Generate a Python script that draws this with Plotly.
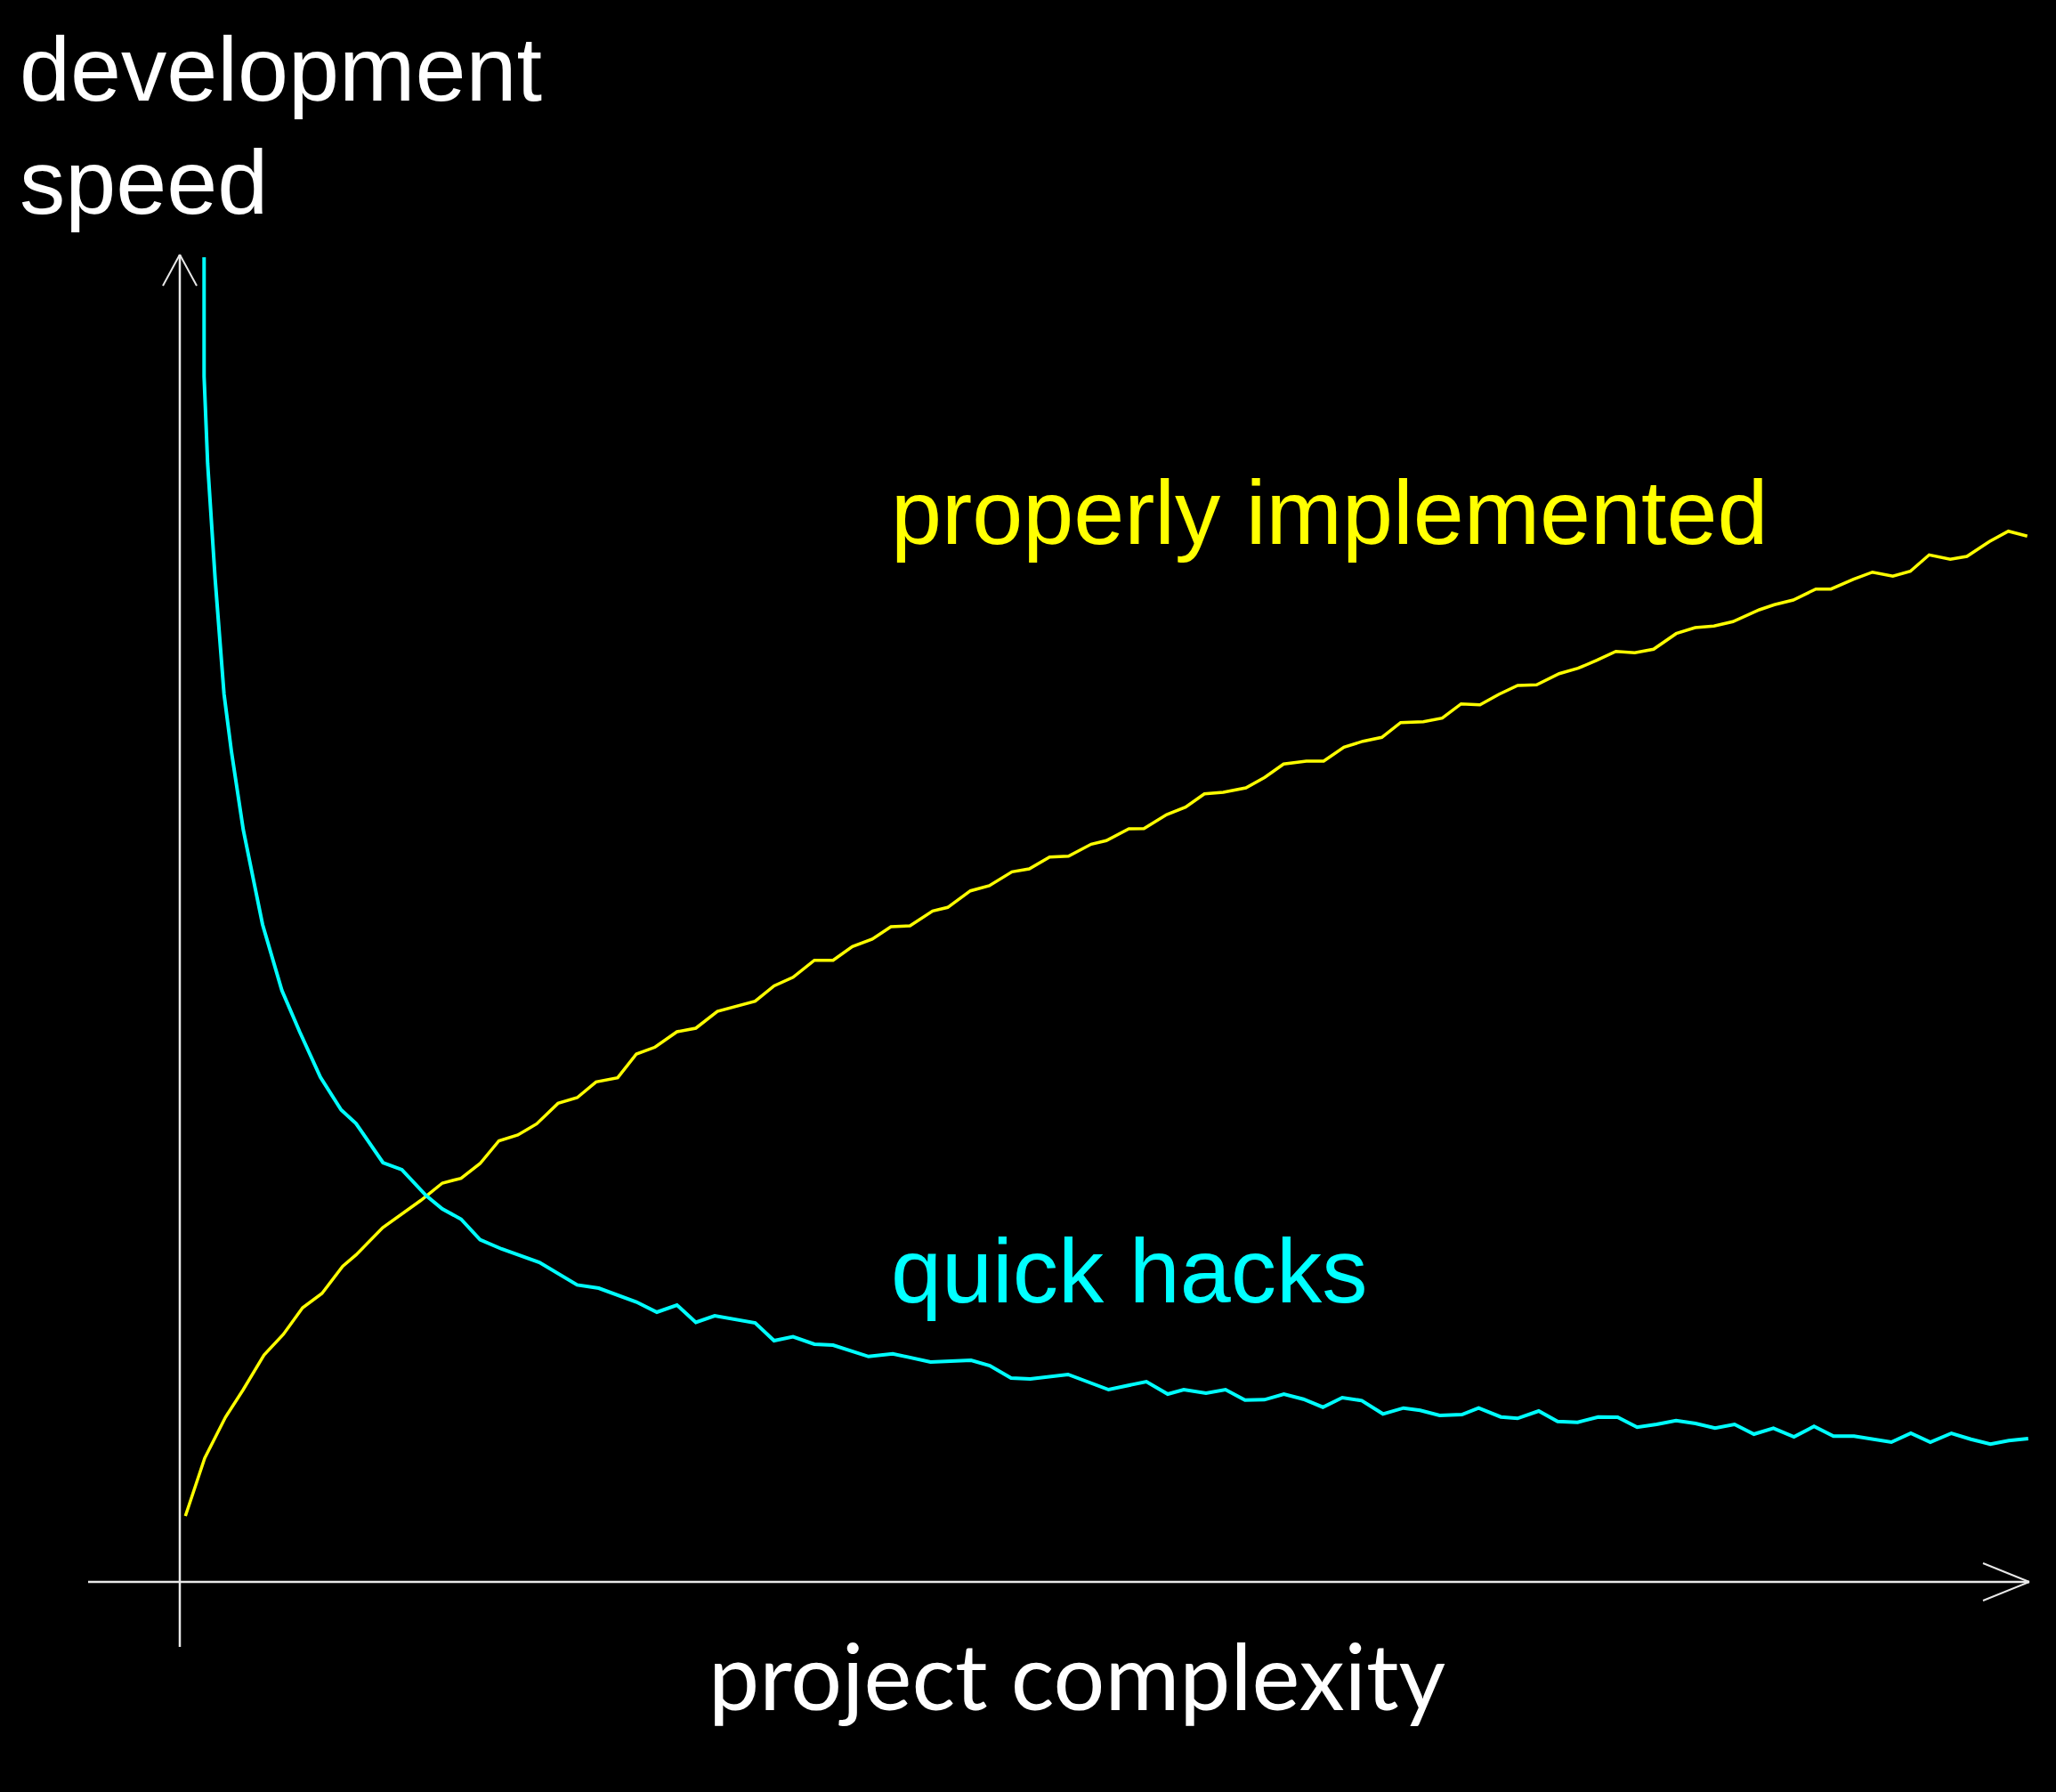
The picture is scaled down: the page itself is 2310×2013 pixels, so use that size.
import plotly.graph_objects as go

# ---- data (complexity units, speed units) ----
hacks_x = [2.73, 2.73, 3.13, 3.97, 4.97, 5.8, 7.13, 9.3, 11.47, 13.47, 15.8, 18.13,
           19.8, 22.83, 24.95, 27.68, 29.5, 31.6, 33.74, 36.16, 40.4, 44.65, 47.07,
           51.3, 53.6, 55.86, 57.98, 60.1, 64.65, 66.77, 68.9, 71.3, 73.4, 77.38,
           80.1, 84.35, 88.9, 91.0, 93.4, 95.56, 99.8, 104.35, 108.6, 111.0, 112.8,
           115.3, 117.49, 119.68, 121.86, 124.05, 126.24, 128.43, 130.61, 132.8,
           135.18, 137.49, 139.36, 141.55, 144.05, 145.93, 148.43, 150.3, 152.68,
           154.8, 157.05, 159.36, 161.55, 163.74, 165.93, 168.11, 170.3, 172.49,
           174.68, 176.86, 179.05, 181.36, 183.61, 185.8, 188.11, 190.3, 192.3,
           194.49, 196.68, 199.05, 201.24, 203.43, 205.49, 207.68]
hacks_y = [148.8, 135.4, 125.65, 112.7, 99.75, 93.3, 84.5, 73.85, 66.45, 61.8, 56.7, 53.03,
           51.5, 47.1, 46.3, 43.4, 41.9, 40.75, 38.45, 37.4, 35.9, 33.36, 33.0,
           31.45, 30.3, 31.1, 29.15, 29.9, 29.1, 27.1, 27.54, 26.7, 26.6, 25.32,
           25.63, 24.7, 24.9, 24.3, 22.9, 22.8, 23.3, 21.6, 22.5, 21.1, 21.6,
           21.2, 21.6, 20.43, 20.47, 21.1, 20.53, 19.63, 20.7, 20.37,
           18.87, 19.53, 19.27, 18.7, 18.8, 19.53, 18.53, 18.37, 19.2,
           18.03, 17.93, 18.53, 18.5, 17.37, 17.7, 18.13, 17.8, 17.27,
           17.7, 16.6, 17.27, 16.3, 17.47, 16.37, 16.37, 15.97, 15.7,
           16.7, 15.7, 16.7, 16.03, 15.47, 15.87, 16.1]

proper_x = [0.63, 2.8, 5.13, 7.13, 9.47, 11.63, 13.8, 15.97, 18.3, 19.8, 22.8, 27.07,
            29.5, 31.6, 33.74, 35.86, 37.98, 40.1, 42.5, 44.65, 46.77, 49.2, 51.3,
            53.4, 55.86, 57.98, 60.4, 64.65, 66.77, 68.9, 71.3, 73.4, 75.56, 77.8,
            79.9, 82.04, 84.59, 86.28, 88.83, 90.95, 93.5, 95.44, 97.73, 99.85,
            102.4, 104.1, 106.64, 108.33, 110.88, 113.0, 115.12, 117.24, 119.78,
            121.9, 124.02, 126.57, 128.52, 130.8, 132.93, 135.05, 137.17, 139.72,
            141.84, 143.96, 146.08, 148.2, 150.32, 152.44, 154.98, 157.1, 159.22,
            161.35, 163.47, 165.59, 168.13, 170.25, 172.37, 174.5, 177.47, 179.16,
            181.28, 183.82, 185.52, 188.06, 190.18, 192.47, 194.43, 196.55, 198.92,
            200.79, 203.33, 205.45, 207.57]
proper_y = [7.4, 13.9, 18.5, 21.6, 25.5, 27.8, 30.8, 32.4, 35.45, 36.73, 39.8, 42.85,
            44.8, 45.34, 47.0, 49.55, 50.2, 51.46, 53.76, 54.4, 56.17, 56.63, 59.3,
            60.07, 61.8, 62.2, 64.1, 65.24, 66.96, 67.92, 69.83, 69.83, 71.36, 72.2,
            73.6, 73.7, 75.37, 75.77, 77.63, 78.2, 79.77, 80.1, 81.43, 81.53,
            82.87, 83.27, 84.6, 84.63, 86.2, 87.03, 88.53, 88.7, 89.2,
            90.37, 91.87, 92.2, 92.2, 93.77, 94.43, 94.87, 96.53, 96.63,
            97.03, 98.63, 98.53, 99.7, 100.7, 100.77, 102.03, 102.63, 103.53,
            104.53, 104.37, 104.77, 106.53, 107.2, 107.37, 107.87, 109.2, 109.77,
            110.3, 111.53, 111.53, 112.63, 113.43, 112.97, 113.53, 115.37, 114.87,
            115.2, 116.87, 118.03, 117.47]

y_title_lines = ["development", "speed"]
x_title = "project complexity"
label_proper = "properly implemented"
label_hacks = "quick hacks"

W, H = 2310, 2013
X0PX, Y0PX, SCALE = 202, 1777, 10.0   # pixel of origin, pixels per unit


def px2x(px):
    return (px - X0PX) / SCALE


def py2y(py):
    return (Y0PX - py) / SCALE


CYAN = "#00ffff"
YELLOW = "#ffff00"

fig = go.Figure()
fig.add_trace(go.Scatter(x=proper_x, y=proper_y, mode="lines",
                         line=dict(color=YELLOW, width=3.5), name=label_proper))
fig.add_trace(go.Scatter(x=hacks_x, y=hacks_y, mode="lines",
                         line=dict(color=CYAN, width=4), name=label_hacks))

axis_col = "#e8e8e8"
shapes = [
    # x axis + arrow head
    dict(type="line", x0=px2x(99), y0=0, x1=px2x(2280), y1=0,
         line=dict(color=axis_col, width=2.5)),
    dict(type="line", x0=px2x(2228), y0=py2y(1756), x1=px2x(2280), y1=0,
         line=dict(color=axis_col, width=2)),
    dict(type="line", x0=px2x(2228), y0=py2y(1798), x1=px2x(2280), y1=0,
         line=dict(color=axis_col, width=2)),
    # y axis + arrow head
    dict(type="line", x0=0, y0=py2y(1850), x1=0, y1=py2y(286),
         line=dict(color=axis_col, width=2.5)),
    dict(type="line", x0=px2x(183), y0=py2y(321), x1=0, y1=py2y(286),
         line=dict(color=axis_col, width=2)),
    dict(type="line", x0=px2x(221), y0=py2y(321), x1=0, y1=py2y(286),
         line=dict(color=axis_col, width=2)),
]

helv = "Liberation Sans, Arial, Helvetica, sans-serif"
FS = 102.5


def label(text, left_px, baseline_px, color, family=helv, size=FS):
    # centre of text box approx. baseline - 0.3465 em
    return dict(text=text, x=left_px / W, y=1 - (baseline_px - 0.3465 * size) / H,
                xref="paper", yref="paper", xanchor="left", yanchor="middle",
                showarrow=False, font=dict(family=family, size=size, color=color))


annotations = [
    label(y_title_lines[0], 20, 113, "#ffffff"),
    label(y_title_lines[1], 20, 240, "#ffffff"),
    label(label_proper, 999, 611, YELLOW),
    label(label_hacks, 999, 1463, CYAN),
    label(x_title, 794, 1917, "#ffffff", family="Lato, Open Sans, sans-serif", size=102),
]

fig.update_layout(
    width=W, height=H, margin=dict(l=0, r=0, t=0, b=0),
    paper_bgcolor="#000000", plot_bgcolor="#000000",
    showlegend=False,
    xaxis=dict(range=[px2x(0), px2x(W)], visible=False, fixedrange=True),
    yaxis=dict(range=[py2y(H), py2y(0)], visible=False, fixedrange=True),
    shapes=shapes, annotations=annotations,
)

fig.write_html("out.html", config={"displayModeBar": False})
